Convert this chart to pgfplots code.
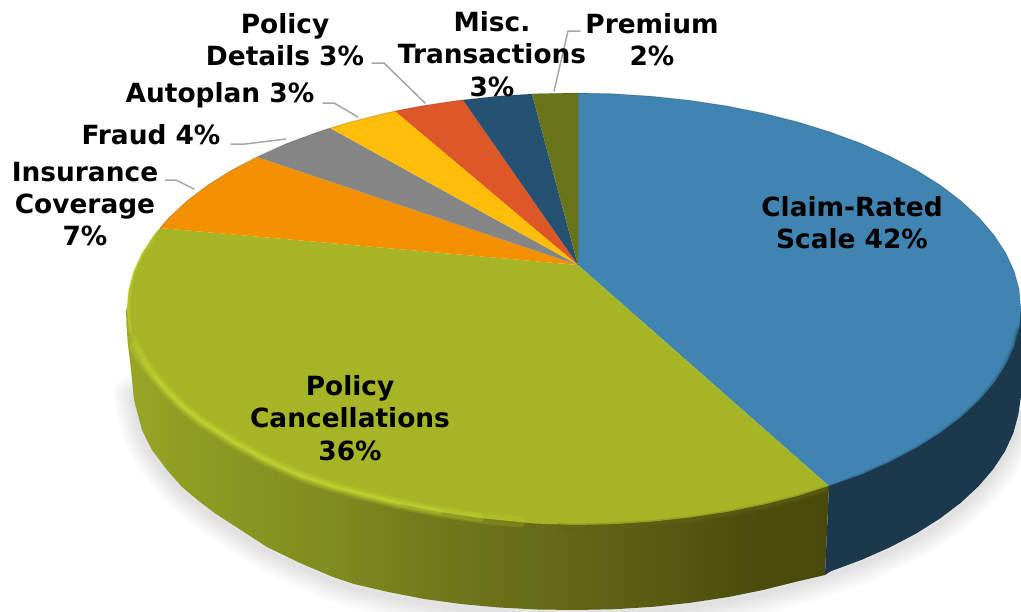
\documentclass[border=0pt]{standalone}
\usepackage{pgfplots}
\pgfplotsset{compat=1.18}
\usepackage{fontspec}
\setmainfont{DejaVu Sans}
\definecolor{cBlue}{HTML}{4085B1}
\definecolor{cGreen}{HTML}{A5B526}
\definecolor{cOrange}{HTML}{F39000}
\definecolor{cGray}{HTML}{858585}
\definecolor{cYellow}{HTML}{FDBE0A}
\definecolor{cRed}{HTML}{DD5727}
\definecolor{cNavy}{HTML}{255272}
\definecolor{cOlive}{HTML}{6A7418}
\definecolor{cBlueSide}{HTML}{1B384C}
\definecolor{cLead}{HTML}{A6A6A6}
\definecolor{cLime}{HTML}{C8DC34}
\definecolor{gA}{HTML}{97A626}
\definecolor{gB}{HTML}{8C9C22}
\definecolor{gC}{HTML}{7F8C1F}
\definecolor{gD}{HTML}{6F771B}
\definecolor{gE}{HTML}{5F6415}
\definecolor{gF}{HTML}{4C4E0D}
\definecolor{gG}{HTML}{474A0B}
\pgfdeclarehorizontalshading{greenside}{100bp}{color(0bp)=(gA); color(25bp)=(gA); color(30bp)=(gB); color(39.5bp)=(gC); color(48bp)=(gD); color(58.6bp)=(gE); color(69bp)=(gF); color(75bp)=(gG); color(100bp)=(gG)}
\begin{document}
\begin{tikzpicture}
\begin{axis}[
  scale only axis, width=1021pt, height=611pt,
  xmin=0, xmax=1021, ymin=0, ymax=611, y dir=reverse,
  hide axis, clip=true,
  every axis plot/.append style={line join=round, line cap=round},
]
\path[use as bounding box] (axis cs:0,0) rectangle (axis cs:1021,611);
% soft shadow
\pgfplotsinvokeforeach{40,36,32,28,24,20,16,12,8,4}{
\addplot[draw=black, draw opacity=0.013, line width=#1pt] coordinates {
(133,395)(135,407)(142,434)(152,454)(167,474)(182,491)(200,506)(216,518)(233,529)(267,551)(300,567)(333,581)(354,588)(388.4,596)(424.2,603)(461.1,608)(498.9,611.5)(537.3,613)(576,614)(614.7,613)(653.1,611)(690.9,607)(727.8,601)(763.6,594)(798,585)(830.7,575)(861.4,564)(889.9,551)(916.1,538)(939.7,523)(960.5,507)(978.4,490)(993.2,473)(1004.9,455)(1013.3,437)(1020,415)};
}
% side walls
\addplot[draw=none, shading=greenside] coordinates {
(126,309)(126.5,325)(128,345)(131,370)(134,400)(142,430)(152,450)(167,470)(182,487)(200,502)(216,514)(233,525)(267,547)(300,563)(333,577)(354,584)(388.4,592)(424.2,599)(461.1,604)(498.9,607.5)(537.3,609.5)(576,610)(614.7,609.2)(653.1,606.8)(690.9,602.7)(727.8,597.1)(763.6,589.9)(798,581.3)(825,575)(829,486)(126,309)};
\addplot[draw=none, fill=cBlueSide] coordinates {
(829,486)(825,575)(830.7,571.3)(861.4,559.9)(889.9,547.3)(916.1,533.6)(939.7,518.7)(960.5,503)(978.4,486.4)(993.2,469.2)(1004.9,451.4)(1013.3,433.2)(1018.3,414.7)(1021,396)(1021,309)(829,486)};
% top face: Claim-Rated Scale 42%
\addplot[draw=none, fill=cBlue] coordinates {
(578,265)(578,93)(613,93.8)(651.6,96.3)(689.7,100.4)(726.9,106)(762.9,113.2)(797.5,121.9)(830.4,132.1)(861.3,143.5)(890.1,156.3)(916.4,170.2)(940.2,185.1)(961.1,201)(979.1,217.7)(994,235.1)(1005.8,253.1)(1014.2,271.5)(1019.3,290.2)(1021,309)(1019.3,327.8)(1014.2,346.5)(1005.8,364.9)(994,382.9)(979.1,400.3)(961.1,417)(940.2,432.9)(916.4,447.8)(890.1,461.7)(861.3,474.5)(829,486)(578,265)};
% Policy Cancellations 36%
\addplot[draw=none, fill=cGreen] coordinates {
(578,265)(829,486)(797.5,496.1)(762.9,504.8)(726.9,512)(689.7,517.6)(651.6,521.7)(613,524.2)(574,525)(535,523.5)(480,518)(440,512)(400,504)(367,496)(333,487)(300,476)(267,461)(233,442)(200,421)(183,407)(167,391)(154,376)(143,361)(134,346)(129,330)(127,309)(128.7,290.2)(133.8,271.5)(142.2,253.1)(154,235.1)(160,228)(578,265)};
% Insurance Coverage 7%
\addplot[draw=none, fill=cOrange] coordinates {
(578,265)(160,228)(168.9,217.7)(186.9,201)(207.8,185.1)(231.6,170.2)(257,157)(578,265)};
% Fraud 4%
\addplot[draw=none, fill=cGray] coordinates {
(578,265)(257,157)(286.7,143.5)(317.6,132.1)(330,128)(578,265)};
% Autoplan 3%
\addplot[draw=none, fill=cYellow] coordinates {
(578,265)(330,128)(350.5,121.9)(385.1,113.2)(395,111)(578,265)};
% Policy Details 3%
\addplot[draw=none, fill=cRed] coordinates {
(578,265)(395,111)(421.1,106)(458.3,100.4)(463,100)(578,265)};
% Misc. Transactions 3%
\addplot[draw=none, fill=cNavy] coordinates {
(578,265)(463,100)(496.4,96.3)(532,94)(578,265)};
% Premium 2%
\addplot[draw=none, fill=cOlive] coordinates {
(578,265)(532,94)(535,93.8)(574,93)(578,93)(578,265)};
% rim: soft dark blur on the front
\addplot[draw=gE, draw opacity=0.25, line width=7pt] coordinates {
(560,526)(574,527)(613,526)(651.6,523.7)(689.7,519.6)(726.9,514)(762.9,506.8)(797.5,498.1)(827,489)};
\addplot[draw=gE, draw opacity=0.4, line width=3pt] coordinates {
(590,527)(613,526)(651.6,523.7)(689.7,519.6)(726.9,514)(762.9,506.8)(797.5,498.1)(827,489)};
\addplot[draw=cBlueSide, draw opacity=0.25, line width=7pt] coordinates {
(831,488)(861.3,476.5)(890.1,463.7)(916.4,449.8)(940.2,434.9)(961.1,419)(979.1,402.3)(994,384.9)(1005.8,366.9)(1014.2,348.5)(1019.3,329.8)};
\addplot[draw=cBlueSide, draw opacity=0.4, line width=3pt] coordinates {
(831,488)(861.3,476.5)(890.1,463.7)(916.4,449.8)(940.2,434.9)(961.1,419)(979.1,402.3)(994,384.9)(1005.8,366.9)(1014.2,348.5)(1019.3,329.8)};
% rim: bright bevel, tapered
\addplot[draw=cLime, draw opacity=0.18, line width=11pt] coordinates {
(132,340)(134,346)(143,361)(154,376)(167,391)(183,407)(200,421)(233,442)(267,461)(300,476)(333,487)(367,496)(400,504)(440,512)(480,518)(520,522)};
\addplot[draw=cLime, draw opacity=0.22, line width=8pt] coordinates {
(134,346)(143,361)(154,376)(167,391)(183,407)(200,421)(233,442)(267,461)(300,476)(333,487)(367,496)(400,504)(440,512)(480,518)};
\addplot[draw=cLime, draw opacity=0.3, line width=5pt] coordinates {
(143,361)(154,376)(167,391)(183,407)(200,421)(233,442)(267,461)(300,476)(333,487)(367,496)(400,504)(440,512)};
\addplot[draw=cLime, draw opacity=0.4, line width=2.5pt] coordinates {
(154,376)(167,391)(183,407)(200,421)(233,442)(267,461)(300,476)(333,487)(367,496)(400,504)};
\addplot[draw=cLime, draw opacity=0.2, line width=4pt] coordinates {
(155,236)(142.2,255)(133.8,273)(129.5,292)(128.5,309)(130,332)};
\addplot[draw=cLime, draw opacity=0.2, line width=2pt] coordinates {
(150,243)(142.2,255)(133.8,273)(129.5,292)(128.5,309)(130,332)};
\addplot[draw=black, draw opacity=0.18, line width=1pt] coordinates {
(578,93)(613,93.8)(651.6,96.3)(689.7,100.4)(726.9,106)(762.9,113.2)(797.5,121.9)(830.4,132.1)(861.3,143.5)(890.1,156.3)(916.4,170.2)(940.2,185.1)(961.1,201)(979.1,217.7)(994,235.1)(1005.8,253.1)(1014.2,271.5)(1019.3,290.2)};
\addplot[draw=black, draw opacity=0.15, line width=1pt] coordinates {
(160,228)(168.9,217.7)(186.9,201)(207.8,185.1)(231.6,170.2)(257.9,156.3)(286.7,143.5)(317.6,132.1)(350.5,121.9)(385.1,113.2)(421.1,106)(458.3,100.4)(496.4,96.3)(535,93.8)(578,93)};
% leader lines
\addplot[draw=cLead, line width=1.5pt] coordinates {(165,180)(176,180)(194,189)};
\addplot[draw=cLead, line width=1.5pt] coordinates {(231,144)(245,144)(286,139)};
\addplot[draw=cLead, line width=1.5pt] coordinates {(323,103)(334,103)(358,117)};
\addplot[draw=cLead, line width=1.5pt] coordinates {(372,63)(384,63)(425,103)};
\addplot[draw=cLead, line width=1.5pt] coordinates {(580,31)(568,31)(554,91)};
% labels
\tikzset{lab/.style={font=\fontsize{26.4}{32.3}\selectfont\bfseries, align=center, anchor=center, text=black, inner sep=0pt}}
\node[lab] at (axis cs:852,223) {Claim-Rated\\Scale 42\%};
\node[lab] at (axis cs:350,418) {Policy\\Cancellations\\36\%};
\node[lab] at (axis cs:85,204) {Insurance\\Coverage\\7\%};
\node[lab] at (axis cs:151,135) {Fraud 4\%};
\node[lab] at (axis cs:220,95) {Autoplan 3\%};
\node[lab] at (axis cs:285,40) {Policy\\Details 3\%};
\node[lab] at (axis cs:492,54) {Misc.\\Transactions\\3\%};
\node[lab] at (axis cs:652,40) {Premium\\2\%};
\end{axis}
\end{tikzpicture}
\end{document}
